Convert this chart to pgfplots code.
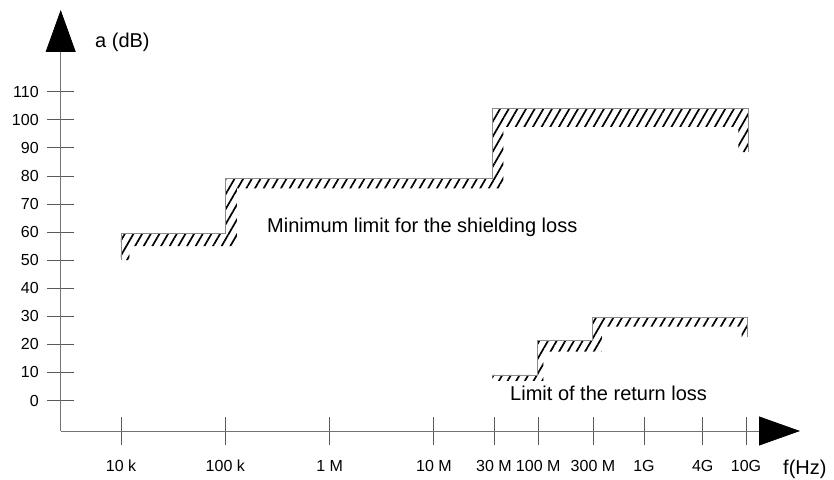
\documentclass[border=0pt]{standalone}
\usepackage{fontspec}
\setmainfont{Liberation Sans}
\usepackage{pgfplots}
\pgfplotsset{compat=1.18}
\usetikzlibrary{arrows.meta,patterns.meta}
\begin{document}
\begin{tikzpicture}
\begin{axis}[
  scale only axis, width=739.3bp, height=421bp,
  xmin=3.422, xmax=10.51, ymin=-10.866, ymax=139.12,
  axis lines=left,
  axis line style={draw=black!55, line width=0.8bp},
  x axis line style={-{Triangle[length=41bp,width=29bp,color=black]}},
  y axis line style={-{Triangle[length=42bp,width=30bp,color=black]}},
  xtick={4,5,6,7,7.576,8,8.525,9.014,9.577,9.992},
  xticklabels={10 k,100 k,1 M,10 M,30 M,100 M,300 M,1G,4G,10G},
  ytick={0,10,20,30,40,50,60,70,80,90,100,110},
  tick align=center, major tick length=27bp,
  tick style={draw=black!65, line width=0.8bp},
  tick label style={font=\fontsize{16bp}{19bp}\selectfont},
  yticklabel style={xshift=-5bp},
  xticklabel style={yshift=-12bp},
  /pgf/number format/assume math mode=true,
  xlabel={f(Hz)},
  xlabel style={at={(axis cs:10.347,-26.2)}, anchor=base west, inner sep=0pt, font=\fontsize{20bp}{24bp}\selectfont},
  ylabel={a (dB)},
  ylabel style={at={(axis cs:3.751,125.9)}, anchor=base west, rotate=-90, inner sep=0pt, font=\fontsize{20bp}{24bp}\selectfont},
  clip=false,
]
\coordinate (O) at (rel axis cs:0,0);
% shielding loss hatched band
\addplot[draw=none, pattern={Lines[angle=60,distance=7.5bp,line width=1.7bp]}, pattern color=black]
  coordinates {(4.0,50) (4.0,59.4) (4.998,59.4) (4.998,79.2) (7.56,79.2) (7.56,104.2) (10.015,104.2) (10.015,88.5)
  (9.92,88.5) (9.92,97.5) (7.666,97.5) (7.666,75.6) (5.11,75.6) (5.11,55) (4.08,55) (4.08,50)} -- cycle;
\addplot[draw=black!45, line width=0.8bp]
  coordinates {(4.0,50) (4.0,59.4) (4.998,59.4) (4.998,79.2) (7.56,79.2) (7.56,104.2) (10.015,104.2) (10.015,88.5)};
% return loss hatched band
\addplot[draw=none, pattern={Lines[angle=60,distance=7.5bp,line width=1.7bp]}, pattern color=black]
  coordinates {(7.56,7) (7.56,9.1) (7.995,9.1) (7.995,21.5) (8.52,21.5) (8.52,29.6) (10.005,29.6) (10.005,22.7)
  (9.95,22.7) (9.95,26.3) (8.61,26.3) (8.61,17.4) (8.05,17.4) (8.05,7)} -- cycle;
\addplot[draw=black!45, line width=0.8bp]
  coordinates {(7.56,9.1) (7.995,9.1) (7.995,21.5) (8.52,21.5) (8.52,29.6) (10.005,29.6) (10.005,22.7)};
\node[anchor=base west, inner sep=0pt, font=\fontsize{20bp}{24bp}\selectfont] at (axis cs:5.40,60) {Minimum limit for the shielding loss};
\node[anchor=base west, inner sep=0pt, font=\fontsize{20bp}{24bp}\selectfont] at (axis cs:7.73,0) {Limit of the return loss};
\end{axis}
\pgfresetboundingbox
\path ([shift={(-60.7bp,-49bp)}]O) rectangle ([shift={(773.3bp,431bp)}]O);
\end{tikzpicture}
\end{document}
